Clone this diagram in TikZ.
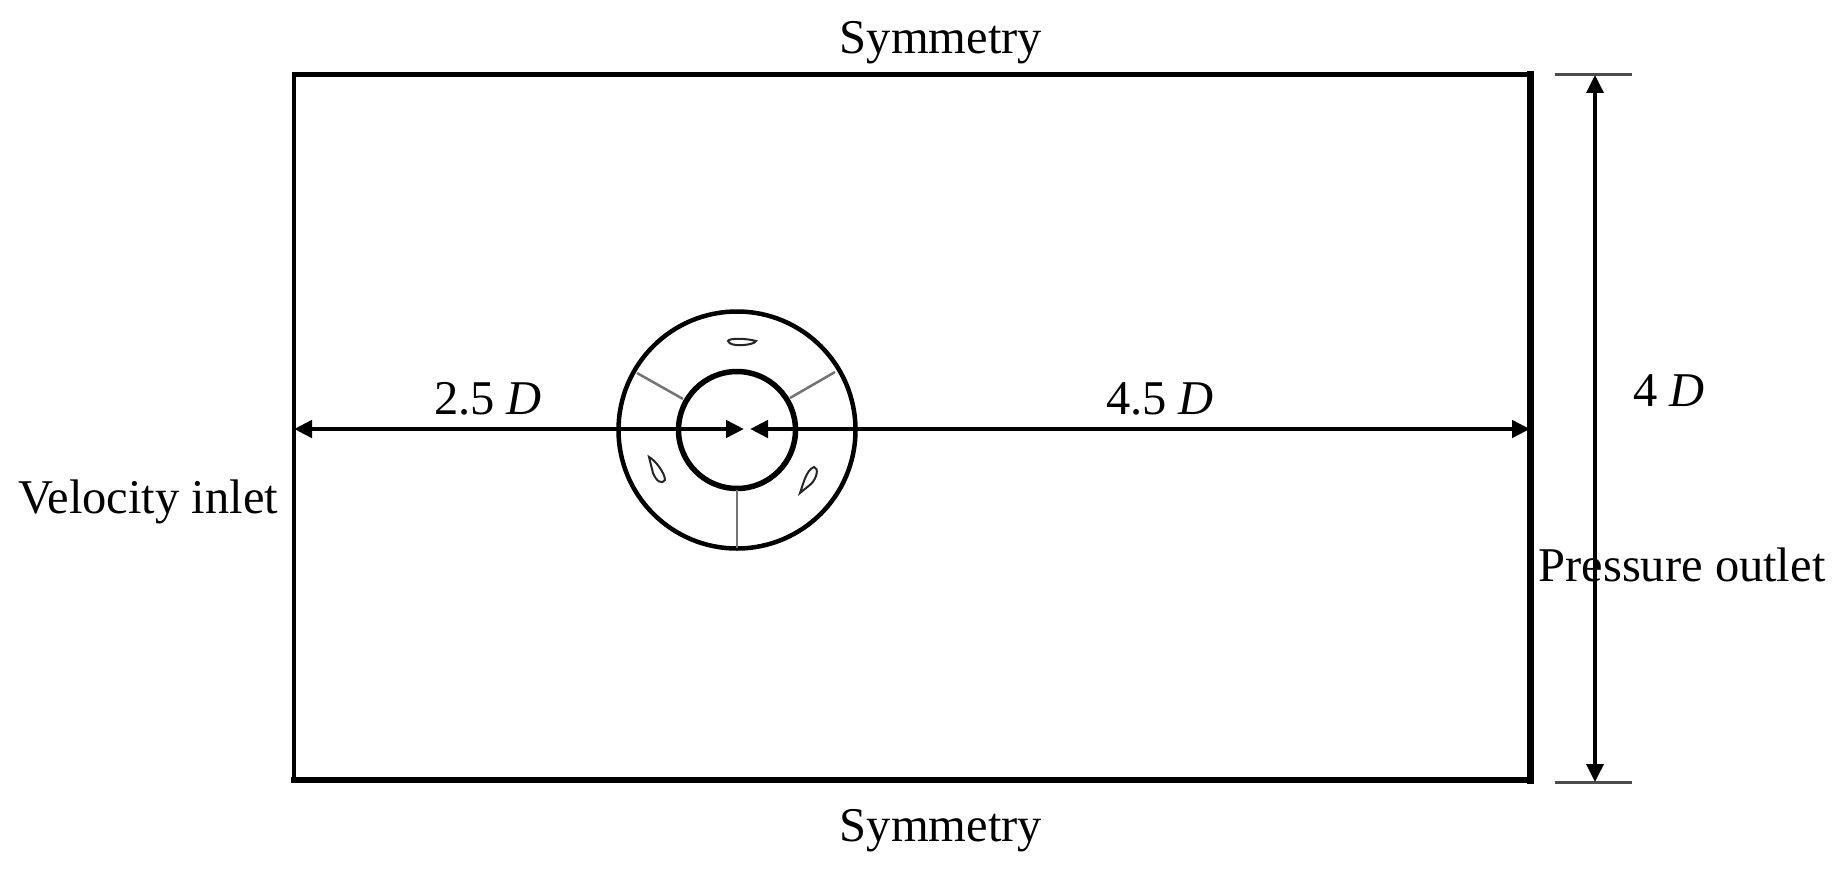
\documentclass[tikz,border=0pt]{standalone}
\usepackage{fontspec}
\setmainfont{Liberation Serif}
\usetikzlibrary{arrows.meta}
\tikzset{
  x=1pt,y=-1pt,
  lbl/.style={inner sep=0pt,anchor=base,font=\fontsize{48.5}{56}\selectfont,text=black},
  dim/.style={line width=4.5pt,black,{Triangle[length=18pt,width=17pt]}-{Triangle[length=18pt,width=17pt]}},
  tick/.style={line width=3pt,black!70},
  spoke/.style={line width=2.5pt,black!55},
  blade/.style={line width=2pt,black!85,fill=white},
  ring/.style={circle,draw=black,inner sep=0pt,fill=none}
}
\begin{document}
\begin{tikzpicture}
\useasboundingbox (0,0) rectangle (1843,869);
\fill[white] (0,0) rectangle (1843,869);
% domain
\coordinate (tl) at (294,75);
\coordinate (tr) at (1530,75);
\coordinate (br) at (1530,780);
\coordinate (bl) at (294,780);
\draw[line width=5pt,line cap=rect] (tl) -- (tr);
\draw[line width=5.5pt,line cap=rect] (bl) -- (br);
\draw[line width=4.5pt] (tl) -- (bl);
\draw[line width=7pt,line cap=rect] (tr) -- (br);
% rotor
\node[ring,line width=4.5pt,minimum size=237pt] (outer) at (737,430) {};
\node[ring,line width=5.5pt,minimum size=117pt] (inner) at (737,430) {};
\coordinate (s1a) at (637,373); \coordinate (s1b) at (683,399);
\coordinate (s2a) at (835,372); \coordinate (s2b) at (790,398);
\coordinate (s3a) at (737,490); \coordinate (s3b) at (737,548);
\draw[spoke] (s1a) -- (s1b);
\draw[spoke] (s2a) -- (s2b);
\draw[spoke] (s3a) -- (s3b);
% blades
\draw[blade] (728,341) .. controls (729,338) and (745,338) .. (756,341) .. controls (755,345) and (730,348) .. (728,341) -- cycle;
\draw[blade] (649,457) .. controls (655,460) and (665,473) .. (665,480) .. controls (662,485) and (656,481) .. (653,473) -- cycle;
\draw[blade] (800,493) .. controls (803,485) and (806,470) .. (814,467) .. controls (819,468) and (817,478) .. (811,484) -- cycle;
% dimensions
\coordinate (hl) at (294,429); \coordinate (hm1) at (744,429);
\coordinate (hm2) at (750,429); \coordinate (hr) at (1530,429);
\draw[dim] (hl) -- (hm1);
\draw[dim] (hm2) -- (hr);
\coordinate (t1a) at (1555,75); \coordinate (t1b) at (1632,75);
\coordinate (t2a) at (1555,782); \coordinate (t2b) at (1632,782);
\draw[tick] (t1a) -- (t1b);
\draw[tick] (t2a) -- (t2b);
\coordinate (va) at (1595,75); \coordinate (vb) at (1595,782);
\draw[dim,line width=3.5pt] (va) -- (vb);
% labels
\node[lbl] (symt) at (941,54) {Symmetry};
\node[lbl] (symb) at (941,841) {Symmetry};
\node[lbl] (vin) at (148,513) {Velocity inlet};
\node[lbl] (pout) at (1682,581) {Pressure outlet};
\node[lbl] (d1) at (488,414) {2.5 \textit{D}};
\node[lbl] (d2) at (1160,414) {4.5 \textit{D}};
\node[lbl] (d3) at (1669,406) {4 \textit{D}};
\end{tikzpicture}
\end{document}
